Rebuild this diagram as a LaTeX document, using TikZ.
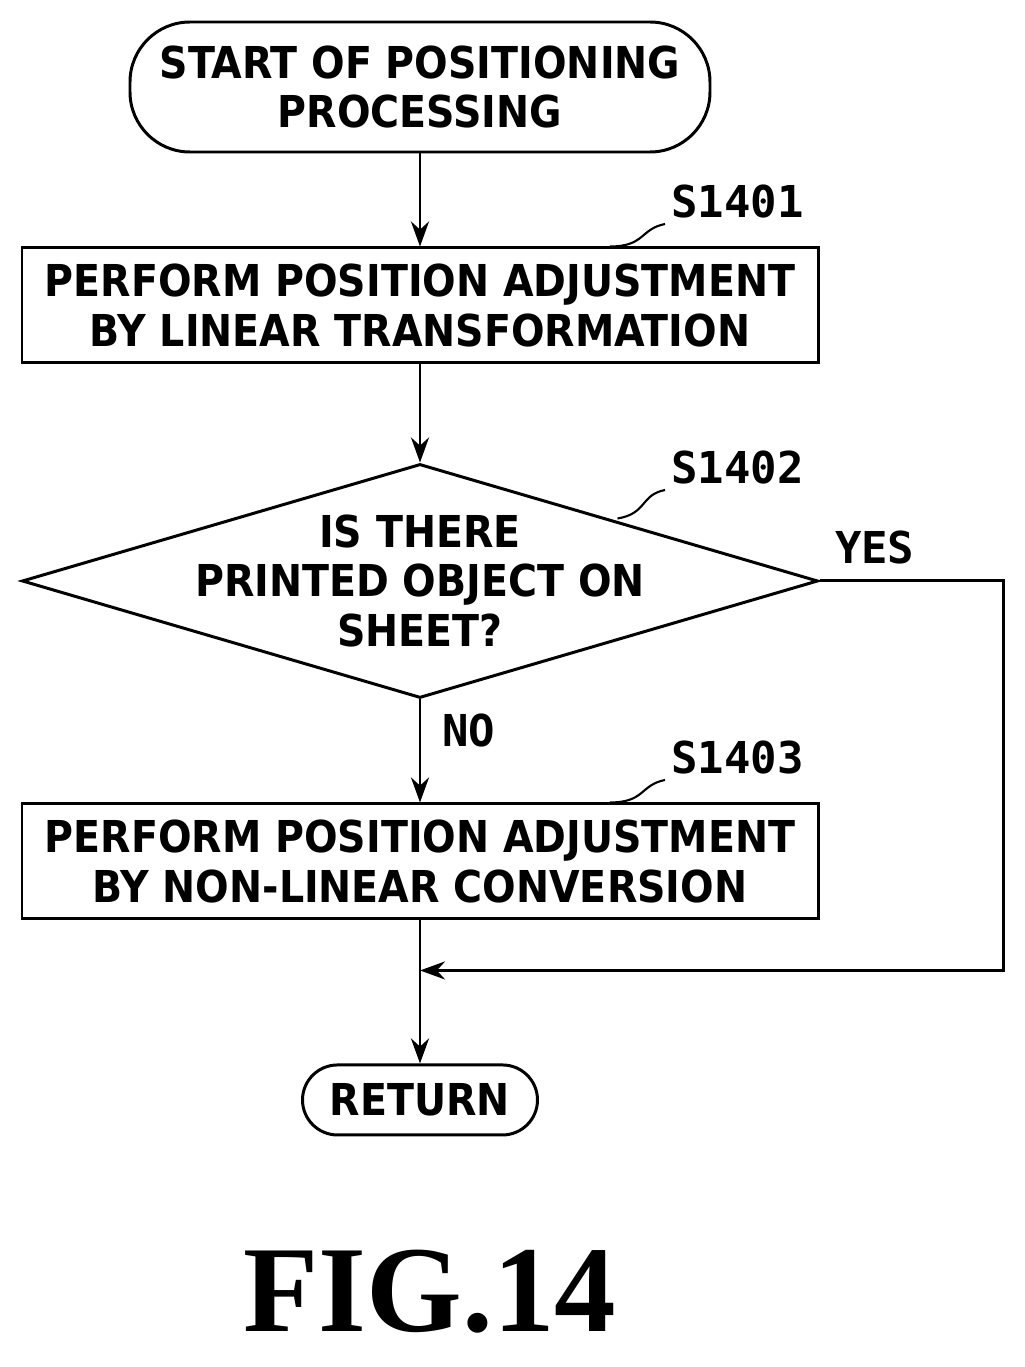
\documentclass[tikz,border=0pt]{standalone}
\usepackage{fontspec}
\setsansfont{DejaVu Sans Condensed}
\setmonofont{DejaVu Sans Mono}
\setmainfont{Liberation Serif}
\usetikzlibrary{arrows.meta, positioning, shapes.geometric, calc}

\begin{document}
\begin{tikzpicture}[
  node distance=1.9cm,
  font=\sffamily\bfseries\fontsize{25}{28}\selectfont,
  terminal/.style={rectangle, rounded corners=1.2cm, draw, line width=1.7pt, align=center, inner sep=0pt},
  process/.style={rectangle, draw, line width=1.7pt, minimum width=15.92cm, minimum height=2.3cm, align=center, inner sep=0pt},
  decision/.style={diamond, draw, line width=1.7pt, aspect=3.4, minimum width=15.92cm, minimum height=4.68cm, align=center, inner xsep=-0.7cm, inner ysep=-0.3cm},
  steplabel/.style={font=\ttfamily\bfseries\fontsize{25}{28}\selectfont, anchor=south west},
  leader/.style={line width=1.2pt},
  arrow/.style={-{Stealth[length=5mm,width=3.6mm]}, line width=1.7pt}
]
\useasboundingbox (-8.4,1.74) rectangle (12.1,-25.6);
\node[terminal, minimum width=11.6cm, minimum height=2.6cm] (start) {START OF POSITIONING\\PROCESSING};
\node[process, below=1.86cm of start] (linear) {PERFORM POSITION ADJUSTMENT\\BY LINEAR TRANSFORMATION};
\node[decision, below=1.96cm of linear] (check) {IS THERE\\PRINTED OBJECT ON\\SHEET?};
\node[process, below=2.06cm of check] (nonlinear) {PERFORM POSITION ADJUSTMENT\\BY NON-LINEAR CONVERSION};
\node[terminal, minimum width=4.7cm, minimum height=1.4cm, rounded corners=0.7cm, below=2.86cm of nonlinear] (ret) {RETURN};
\coordinate[below=1cm of nonlinear] (join);

% step labels
\node[steplabel] (s1401) at ($(linear.north)+(4.9,0.45)$) {S1401};
\node[steplabel] (s1402) at ($(check.north)+(4.9,-0.55)$) {S1402};
\node[steplabel] (s1403) at ($(nonlinear.north)+(4.9,0.45)$) {S1403};
\draw[leader] ($(linear.north)+(3.8,0)$) .. controls +(0.7,0) and +(-0.5,-0.1) .. (s1401.south west);
\draw[leader] ($(check.north)+(3.95,-1.12)$) .. controls +(0.6,0.1) and +(-0.5,-0.1) .. (s1402.south west);
\draw[leader] ($(nonlinear.north)+(3.8,0)$) .. controls +(0.7,0) and +(-0.5,-0.1) .. (s1403.south west);

\draw[arrow] (start) -- (linear);
\draw[arrow] (linear) -- (check);
\draw[arrow] (check) -- node[pos=0.3, right=3mm, font=\ttfamily\bfseries\fontsize{25}{28}\selectfont]{NO} (nonlinear);
\draw[arrow] (nonlinear) -- (ret);
\draw[arrow] (check.east) -- node[pos=0.3, above=2mm, font=\ttfamily\bfseries\fontsize{25}{28}\selectfont]{YES} ++(3.68,0) |- (join);

\node[font=\rmfamily\bfseries\fontsize{70}{80}\selectfont] (fig) at (0.2,-24.1) {FIG.14};
\end{tikzpicture}
\end{document}
